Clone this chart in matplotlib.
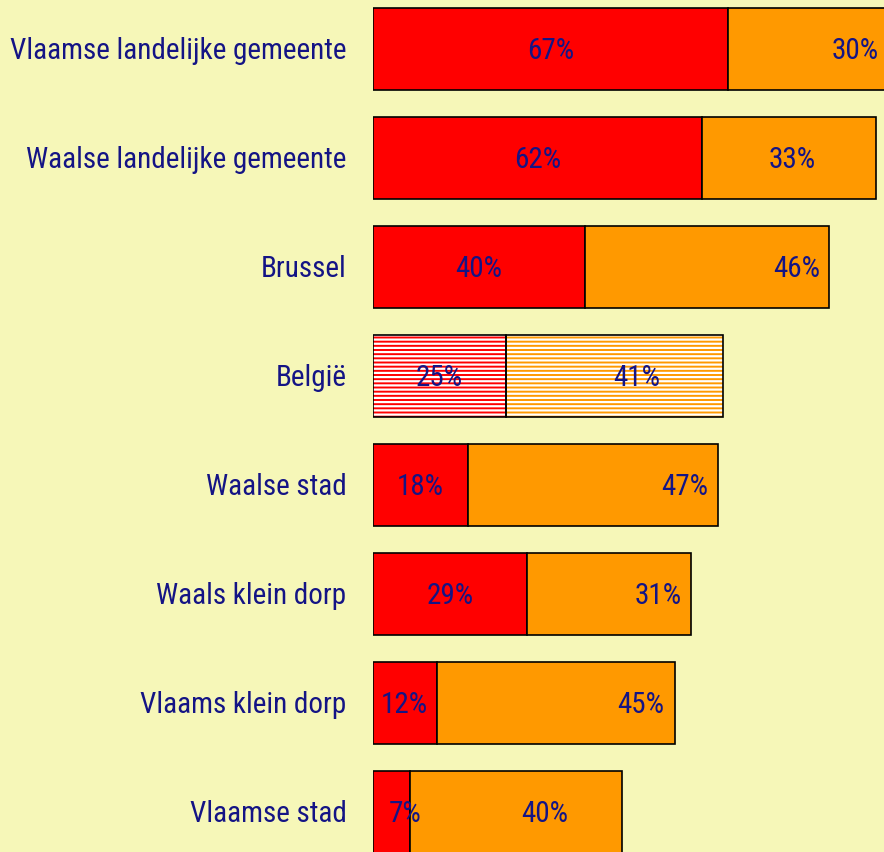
import matplotlib
matplotlib.use("Agg")
import matplotlib.pyplot as plt
from matplotlib import font_manager

# categories (top to bottom) and the two stacked shares in percent
categories = [
    "Vlaamse landelijke gemeente", "Waalse landelijke gemeente", "Brussel", "België",
    "Waalse stad", "Waals klein dorp", "Vlaams klein dorp", "Vlaamse stad",
]
share_red = [67, 62, 40, 25, 18, 29, 12, 7]
share_orange = [30, 33, 46, 41, 47, 31, 45, 40]
# where the orange labels sit (in % along the axis)
orange_label_x = [90.9, 79.1, 80.0, 49.8, 58.9, 53.8, 50.6, 32.3]
highlight = "België"

BG = "#f6f7b8"
RED = "#ff0000"
ORANGE = "#ff9900"
TXT = "#141485"

# condensed font if one is around
font = "DejaVu Sans"
for cand in ["Liberation Sans Narrow", "Roboto Condensed", "Open Sans Condensed"]:
    try:
        font_manager.findfont(cand, fallback_to_default=False)
        font = cand
        break
    except ValueError:
        pass
plt.rcParams["font.family"] = [font, "DejaVu Sans"]
plt.rcParams["hatch.linewidth"] = 1.6

fig = plt.figure(figsize=(8.84, 8.52), dpi=100, facecolor=BG)
ax = fig.add_axes([373 / 884, 0, 1 - 373 / 884, 1])
ax.set_facecolor(BG)

px = 5.3  # pixels per percent
ax.set_xlim(0, (884 - 373) / px)
ax.set_ylim((852 - 49) / 109, -49 / 109)
ax.axis("off")

dy = 0.02  # text sits a touch lower than the bar centre
for i, cat in enumerate(categories):
    r, o = share_red[i], share_orange[i]
    if cat == highlight:
        ax.barh(i, r, height=0.76, color=RED, edgecolor="white", hatch="----", linewidth=0)
        ax.barh(i, o, left=r, height=0.76, color=ORANGE, edgecolor="white", hatch="----", linewidth=0)
        ax.barh(i, r, height=0.76, fill=False, edgecolor="black", linewidth=1.2)
        ax.barh(i, o, left=r, height=0.76, fill=False, edgecolor="black", linewidth=1.2)
    else:
        ax.barh(i, r, height=0.76, color=RED, edgecolor="black", linewidth=1.2)
        ax.barh(i, o, left=r, height=0.76, color=ORANGE, edgecolor="black", linewidth=1.2)
    rx = max(r / 2, 6.0)
    ax.text(rx, i + dy, f"{r}%", ha="center", va="center", color=TXT, fontsize=21, clip_on=False)
    ax.text(orange_label_x[i], i + dy, f"{o}%", ha="center", va="center", color=TXT, fontsize=21)
    ax.text(-5.0, i + dy, cat, ha="right", va="center", color=TXT, fontsize=21, clip_on=False)

fig.savefig("out.png", dpi=100, facecolor=BG)
